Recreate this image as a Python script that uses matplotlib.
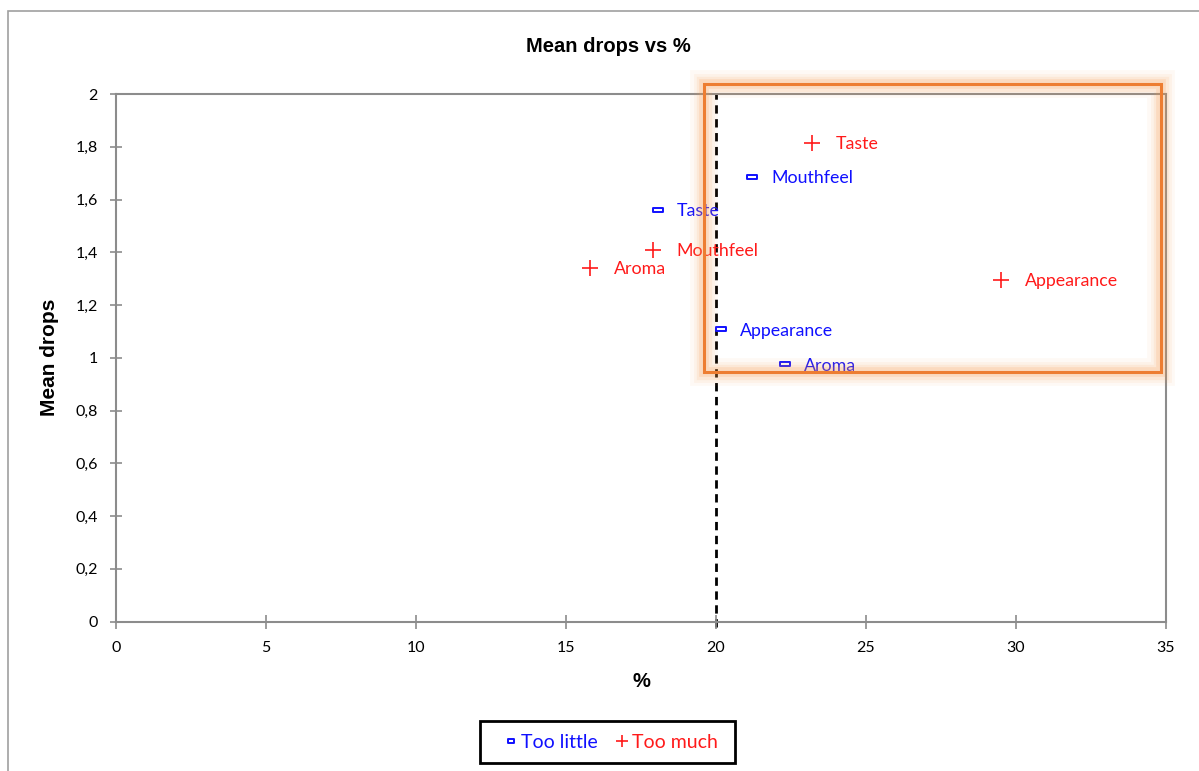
import matplotlib.pyplot as plt
import numpy as np
from matplotlib.patches import Rectangle
from matplotlib.path import Path
from matplotlib.lines import Line2D
from matplotlib.ticker import FuncFormatter

# attributes (same names for both series)
little_names = ["Mouthfeel", "Taste", "Appearance", "Aroma"]
little_pct = [21.2, 18.05, 20.15, 22.3]
little_drops = [1.685, 1.56, 1.108, 0.975]

much_names = ["Taste", "Mouthfeel", "Aroma", "Appearance"]
much_pct = [23.2, 17.9, 15.8, 29.5]
much_drops = [1.815, 1.41, 1.34, 1.295]

cutoff = 20

lab_font = "Lato"
head_font = "Liberation Sans"
blue = "#1010ff"
red = "#ff1a1a"
gray = "#8c8c8c"

# small flat rectangle marker like the Excel one
rect_marker = Path([(-1, -0.45), (1, -0.45), (1, 0.45), (-1, 0.45), (-1, -0.45)],
                   [Path.MOVETO, Path.LINETO, Path.LINETO, Path.LINETO, Path.CLOSEPOLY])

fig = plt.figure(figsize=(11.99, 7.71), dpi=100)
W, H = 1199, 771

# outer chart frame
fig.patches.append(Rectangle((8 / W, -0.1), 1.2, 1 - 11 / H + 0.1, transform=fig.transFigure,
                             fill=False, edgecolor="#a0a0a0", lw=1.2))

ax = fig.add_axes([116 / W, 1 - 621.5 / H, 1050 / W, 527.5 / H])
ax.set_xlim(0, 35)
ax.set_ylim(0, 2)
ax.set_xticks(np.arange(0, 36, 5))
ax.set_yticks(np.arange(0, 2.01, 0.2))
ax.yaxis.set_major_formatter(FuncFormatter(lambda v, p: ("%g" % round(v, 1)).replace(".", ",")))
for s in ax.spines.values():
    s.set_color(gray)
    s.set_linewidth(1.5)
ax.tick_params(axis="both", direction="inout", color=gray, width=1.2, labelsize=11.5,
               labelcolor="black")
ax.tick_params(axis="x", length=10, pad=9)
ax.tick_params(axis="y", length=8, pad=9)
for t in ax.get_xticklabels() + ax.get_yticklabels():
    t.set_fontfamily(lab_font)

ax.axvline(cutoff, color="black", lw=2, ls=(0, (3, 2)), ymin=-0.01, clip_on=False, zorder=1)

ax.plot(little_pct, little_drops, ls="none", marker=rect_marker, ms=6.5, mfc="white",
        mec=blue, mew=1.4, zorder=3)
ax.plot(much_pct, much_drops, ls="none", marker="+", ms=12, mec=red, mew=1.2, zorder=3)

for n, x, y in zip(little_names, little_pct, little_drops):
    ax.annotate(n, (x, y), xytext=(14, -1), textcoords="offset points", va="center",
                color=blue, fontsize=12.8, family=lab_font)
for n, x, y in zip(much_names, much_pct, much_drops):
    ax.annotate(n, (x, y), xytext=(17, -1), textcoords="offset points", va="center",
                color=red, fontsize=12.8, family=lab_font)

fig.text(608 / W, 1 - 47 / H, "Mean drops vs %", ha="center", va="center",
         fontsize=14.5, fontweight="bold", family=head_font)
ax.set_xlabel("%", fontsize=14.5, fontweight="bold", family=head_font, labelpad=12)
ax.set_ylabel("Mean drops", fontsize=15, fontweight="bold", family=head_font, labelpad=12)

# orange highlight box with soft glow
bx, by, bw, bh = 704 / W, 1 - 371.5 / H, 457 / W, 287.5 / H
for lw, a in [(20, 0.05), (15, 0.07), (11, 0.1), (7, 0.16)]:
    fig.patches.append(Rectangle((bx, by), bw, bh, transform=fig.transFigure, fill=False,
                                 edgecolor="#f79646", lw=lw, alpha=a, zorder=5))
fig.patches.append(Rectangle((bx, by), bw, bh, transform=fig.transFigure, fill=False,
                             edgecolor="#ed7d31", lw=2.2, zorder=6))

# legend box drawn by hand, legend itself without frame
fig.patches.append(Rectangle((480 / W, 1 - 763 / H), 255 / W, 42 / H, transform=fig.transFigure,
                             fill=False, edgecolor="black", lw=2, zorder=6))
handles = [
    Line2D([], [], ls="none", marker=rect_marker, ms=5, mfc="white", mec=blue, mew=1.4),
    Line2D([], [], ls="none", marker="+", ms=9, mec=red, mew=1.2),
]
leg = fig.legend(handles, ["Too little", "Too much"], loc="center left",
                 bbox_to_anchor=(495.5 / W, 1 - 742 / H), ncol=2, frameon=False,
                 handlelength=1.6, handletextpad=-0.28, columnspacing=0.45,
                 borderpad=0, borderaxespad=0,
                 prop={"family": lab_font, "size": 14})
leg.texts[0].set_color(blue)
leg.texts[1].set_color(red)

fig.savefig("out.png", dpi=100)
